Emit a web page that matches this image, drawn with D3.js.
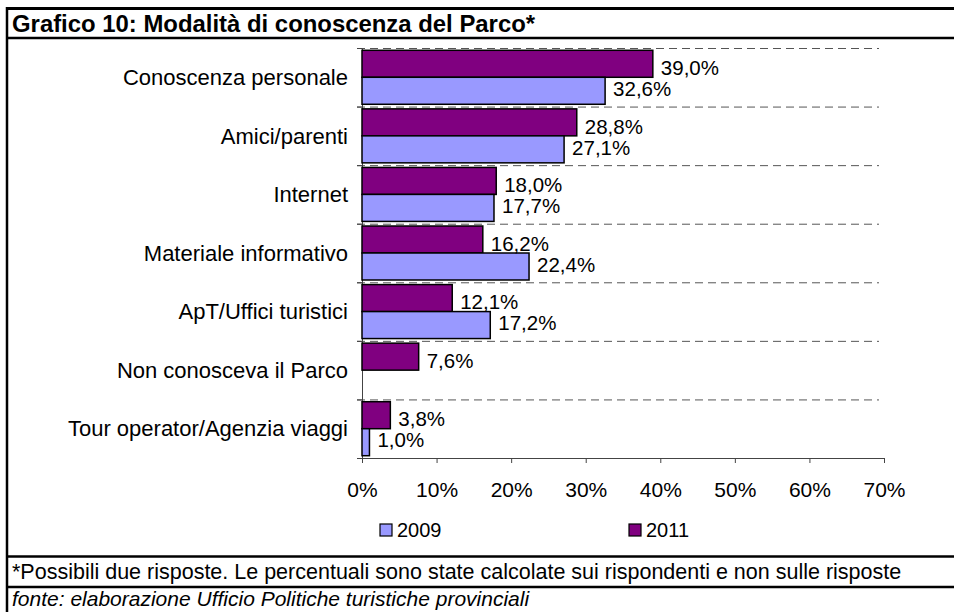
<!DOCTYPE html>
<html><head><meta charset="utf-8">
<script src="https://cdn.jsdelivr.net/npm/d3@7"></script>
<style>body{margin:0;background:#fff}svg{display:block;font-family:"Liberation Sans",Arial,sans-serif}</style>
</head><body>
<script>
const categories = ["Conoscenza personale","Amici/parenti","Internet","Materiale informativo","ApT/Uffici turistici","Non conosceva il Parco","Tour operator/Agenzia viaggi"];
const values2011 = [39.0,28.8,18.0,16.2,12.1,7.6,3.8];
const values2009 = [32.6,27.1,17.7,22.4,17.2,null,1.0];
const xTicks = [0,10,20,30,40,50,60,70];
const seriesNames = ["2011","2009"];
const colors = {"2011":"#800080","2009":"#9999FF"};
const title = "Grafico 10: Modalità di conoscenza del Parco*";
const note = "*Possibili due risposte. Le percentuali sono state calcolate sui rispondenti e non sulle risposte";
const source = "fonte: elaborazione Ufficio Politiche turistiche provinciali";

const W=954,H=612;
const svg=d3.select("body").append("svg").attr("width",W).attr("height",H);
const fmt=v=>v.toFixed(1).replace(".",",")+"%";

// frame
svg.append("line").attr("x1",6).attr("x2",W).attr("y1",8.5).attr("y2",8.5).attr("stroke","#000").attr("stroke-width",3);
svg.append("line").attr("x1",7).attr("x2",7).attr("y1",7).attr("y2",H).attr("stroke","#000").attr("stroke-width",2.5);
[38,556.5,587].forEach(y=>svg.append("line").attr("x1",7).attr("x2",W).attr("y1",y).attr("y2",y).attr("stroke","#000").attr("stroke-width",2.5));
svg.append("text").attr("x",12).attr("y",32).attr("font-size",23.9).attr("font-weight","bold").text(title);
svg.append("text").attr("x",12).attr("y",579).attr("font-size",21.5).text(note);
svg.append("text").attr("x",12).attr("y",606).attr("font-size",21).attr("font-style","italic").text(source);

const x=d3.scaleLinear().domain([0,70]).range([362,884]);
const y=d3.scaleBand().domain(categories).range([48,458]).paddingInner(0).paddingOuter(0);
const y2=d3.scaleBand().domain(seriesNames).range([0,y.bandwidth()]).paddingInner(0).paddingOuter(0.085);

const g=svg.append("g");
// gridlines
categories.forEach(c=>{
  g.append("line").attr("x1",357).attr("x2",879).attr("y1",y(c)+0.5).attr("y2",y(c)+0.5)
   .attr("stroke","#555").attr("stroke-dasharray","8,5").attr("stroke-width",1);
});
// axes
const xAxis=d3.axisBottom(x).tickValues(xTicks).tickFormat(d=>d+"%").tickSize(5).tickSizeOuter(0);
const ax=g.append("g").attr("transform","translate(0,458)").call(xAxis);
ax.select(".domain").attr("stroke","#444");
ax.selectAll(".tick line").attr("stroke","#444");
ax.selectAll("text").attr("font-size",21).attr("fill","#000").attr("y",32).attr("dy","0.35em").attr("font-family","Liberation Sans, Arial, sans-serif");

const yAxis=d3.axisLeft(d3.scaleLinear().domain([0,7]).range([458,48])).ticks(7).tickSize(5).tickFormat("").tickSizeOuter(0);
const ay=g.append("g").attr("transform","translate(362,0)").call(yAxis);
ay.select(".domain").attr("stroke","#444");
ay.selectAll(".tick line").attr("stroke","#444");

// category labels
g.selectAll(".cat").data(categories).join("text").attr("class","cat")
 .attr("x",348).attr("y",d=>y(d)+y.bandwidth()/2).attr("dy","0.35em")
 .attr("text-anchor","end").attr("font-size",22).text(d=>d);

// bars
const rows=[];
categories.forEach((c,i)=>{
  rows.push({c,s:"2011",v:values2011[i]});
  if(values2009[i]!=null) rows.push({c,s:"2009",v:values2009[i]});
});
g.selectAll(".bar").data(rows).join("rect").attr("class","bar")
 .attr("x",x(0)).attr("y",d=>y(d.c)+y2(d.s))
 .attr("width",d=>x(d.v)-x(0)).attr("height",y2.bandwidth())
 .attr("fill",d=>colors[d.s]).attr("stroke","#000").attr("stroke-width",1.5);
g.selectAll(".val").data(rows).join("text").attr("class","val")
 .attr("x",d=>x(d.v)+8).attr("y",d=>y(d.c)+y2(d.s)+y2.bandwidth()/2+(d.s==="2011"?4:-2)).attr("dy","0.35em")
 .attr("font-size",20.5).text(d=>fmt(d.v));

// legend
const legend=[{s:"2009",x:380},{s:"2011",x:629}];
legend.forEach(l=>{
  svg.append("rect").attr("x",l.x).attr("y",524).attr("width",12).attr("height",12)
    .attr("fill",colors[l.s]).attr("stroke","#000").attr("stroke-width",1.2);
  svg.append("text").attr("x",l.x+17).attr("y",530).attr("dy","0.35em").attr("font-size",20).text(l.s);
});
</script>
</body></html>
